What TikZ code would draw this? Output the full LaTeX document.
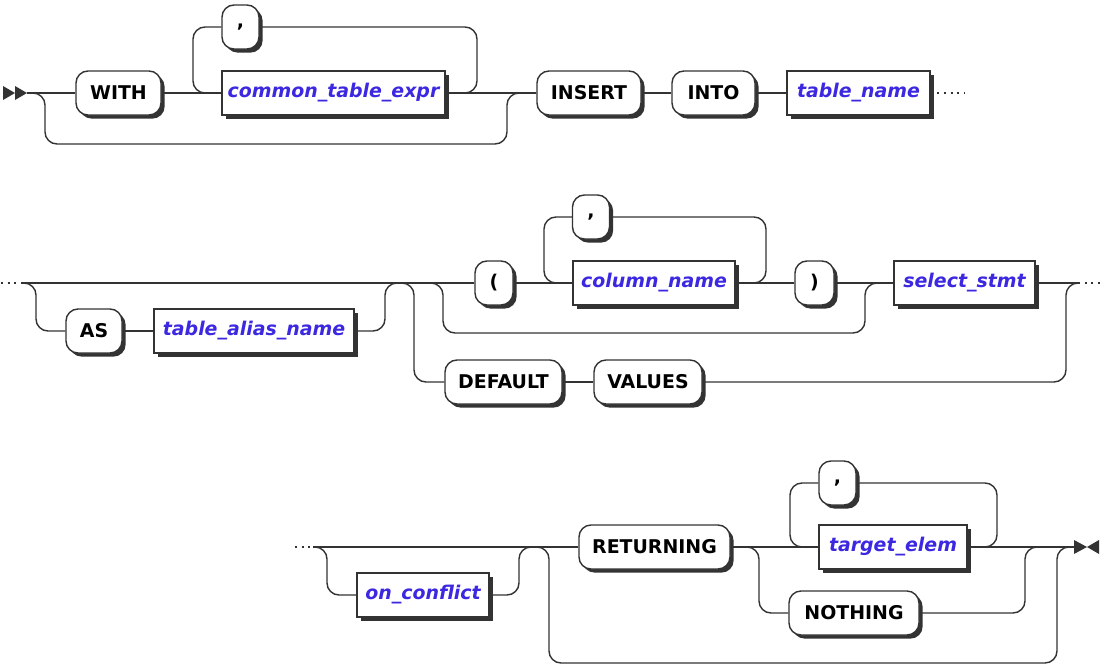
\documentclass[tikz,border=0pt]{standalone}
\usepackage{fontspec}
\setmainfont{DejaVu Sans}
\usetikzlibrary{shadows}
\definecolor{ln}{RGB}{51,51,51}
\definecolor{nt}{RGB}{60,40,225}
\tikzset{
  rr/.style={draw=ln, line width=1.05pt, rounded corners=9pt},
  dots/.style={draw=ln, line width=1.05pt, dash pattern=on 1.5pt off 3.5pt},
  box/.style={draw=ln, line width=1.05pt, fill=white, minimum height=33pt, inner sep=0pt,
    drop shadow={shadow xshift=2.7pt, shadow yshift=-2.7pt, opacity=1, fill=ln}},
  term/.style={box, rounded corners=9pt, text=black, font=\fontsize{14.2}{16}\selectfont\bfseries},
  nterm/.style={box, text=nt, font=\fontsize{14.2}{16}\selectfont\bfseries\itshape},
  wd/.style={minimum width=#1*0.75pt}
}
\begin{document}
\begin{tikzpicture}[x=0.75pt,y=-0.75pt]
\useasboundingbox (0,0) rectangle (1104,671);
% ---------- row 1 ----------
\coordinate (s1) at (27,93);
\coordinate (e1) at (965,93);
\fill[ln] (3,86) -- (15,93) -- (3,100) -- cycle;
\fill[ln] (15,86) -- (27,93) -- (15,100) -- cycle;
\node[term, wd=85] (with) at (118.5,93) {WITH};
\node[term, wd=37] (c1) at (240.5,27) {,};
\node[nterm, wd=223] (cte) at (333.5,93) {common\_table\_expr};
\node[term, wd=104] (insert) at (589,93) {INSERT};
\node[term, wd=83] (into) at (713.5,93) {INTO};
\node[nterm, wd=143] (tname) at (858.5,93) {table\_name};
\draw[rr] (s1) -- (with.west);
\draw[rr] (with.east) -- (cte.west);
\draw[rr] (cte.east) -- (insert.west);
\draw[rr] (insert.east) -- (into.west);
\draw[rr] (into.east) -- (tname.west);
\draw[dots] (tname.east) -- (e1);
\draw[rr] (s1) -- (45,93) -- (45,144) -- (507,144) -- (507,93) -- (insert.west);
\draw[rr] (cte.east) -- (477,93) -- (477,27) -- (c1.east);
\draw[rr] (c1.west) -- (193,27) -- (193,93) -- (cte.west);
% ---------- row 2 ----------
\coordinate (s2) at (21,283);
\coordinate (s2d) at (1,283);
\coordinate (e2) at (1078,283);
\coordinate (e2d) at (1102,283);
\node[term, wd=56] (as) at (94,331) {AS};
\node[nterm, wd=200] (alias) at (254,331) {table\_alias\_name};
\node[term, wd=38] (lp) at (494,283) {(};
\node[term, wd=37] (c2) at (591,217) {,};
\node[nterm, wd=162] (col) at (654,283) {column\_name};
\node[term, wd=39] (rp) at (814.5,283) {)};
\node[nterm, wd=141] (sel) at (964.5,283) {select\_stmt};
\node[term, wd=117] (def) at (503.5,382) {DEFAULT};
\node[term, wd=108] (val) at (648,382) {VALUES};
\draw[dots] (s2d) -- (s2);
\draw[rr] (s2) -- (lp.west);
\draw[rr] (lp.east) -- (col.west);
\draw[rr] (col.east) -- (rp.west);
\draw[rr] (rp.east) -- (sel.west);
\draw[rr] (sel.east) -- (e2);
\draw[dots] (e2) -- (e2d);
\draw[rr] (s2) -- (36,283) -- (36,331) -- (as.west);
\draw[rr] (as.east) -- (alias.west);
\draw[rr] (alias.east) -- (385,331) -- (385,283) -- (400,283);
\draw[rr] (400,283) -- (414,283) -- (414,382) -- (def.west);
\draw[rr] (def.east) -- (val.west);
\draw[rr] (val.east) -- (1066,382) -- (1066,283) -- (e2);
\draw[rr] (428,283) -- (443,283) -- (443,333) -- (865,333) -- (865,283) -- (sel.west);
\draw[rr] (col.east) -- (766,283) -- (766,217) -- (c2.east);
\draw[rr] (c2.west) -- (544,217) -- (544,283) -- (col.west);
% ---------- row 3 ----------
\coordinate (s3d) at (295,547);
\coordinate (s3) at (313,547);
\coordinate (e3) at (1074,547);
\node[nterm, wd=132] (oc) at (423,595) {on\_conflict};
\node[term, wd=151] (ret) at (654.5,547) {RETURNING};
\node[term, wd=37] (c3) at (837.5,483) {,};
\node[nterm, wd=148] (te) at (893,547) {target\_elem};
\node[term, wd=130] (not) at (854,613) {NOTHING};
\draw[dots] (s3d) -- (s3);
\draw[rr] (s3) -- (ret.west);
\draw[rr] (ret.east) -- (te.west);
\draw[rr] (te.east) -- (e3);
\draw[rr] (s3) -- (327,547) -- (327,595) -- (oc.west);
\draw[rr] (oc.east) -- (519,595) -- (519,547) -- (534,547);
\draw[rr] (534,547) -- (549,547) -- (549,663) -- (1057,663) -- (1057,547) -- (e3);
\draw[rr] (te.east) -- (997,547) -- (997,483) -- (c3.east);
\draw[rr] (c3.west) -- (790,483) -- (790,547) -- (te.west);
\draw[rr] (ret.east) -- (759,547) -- (759,613) -- (not.west);
\draw[rr] (not.east) -- (1025,613) -- (1025,547) -- (1040,547);
\fill[ln] (1074,540) -- (1087,547) -- (1074,554) -- cycle;
\fill[ln] (1099,540) -- (1087,547) -- (1099,554) -- cycle;
\end{tikzpicture}
\end{document}
